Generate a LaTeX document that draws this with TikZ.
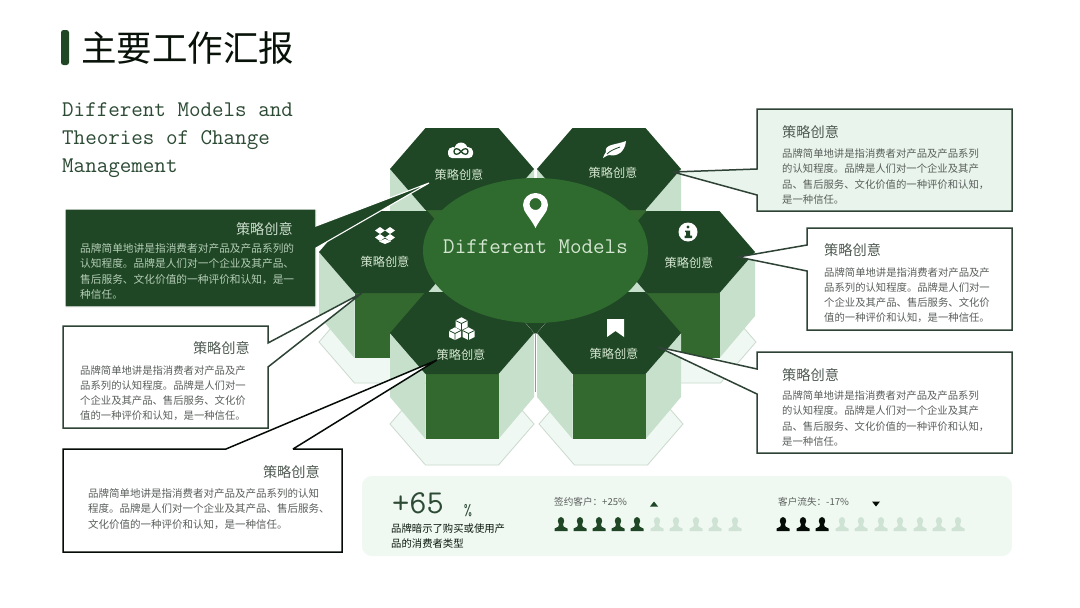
\documentclass[tikz,border=0pt]{standalone}
\usepackage{fontspec}
\usetikzlibrary{shapes.geometric}
\newfontfamily\cjk{Noto Sans CJK SC}
\definecolor{hexdark}{HTML}{1F4725}
\definecolor{front}{HTML}{33692E}
\definecolor{oval}{HTML}{2F6A2F}
\definecolor{side}{HTML}{C6E0CB}
\definecolor{pale}{HTML}{EFF8F2}
\definecolor{paleline}{HTML}{CBDACE}
\definecolor{panel}{HTML}{F0F8F2}
\definecolor{boxlight}{HTML}{E9F4EC}
\definecolor{bodygrey}{HTML}{5A5F5B}
\definecolor{titlegrey}{HTML}{4F5A52}
\definecolor{dimtext}{HTML}{B4CDB6}
\definecolor{hexlabel}{HTML}{D4E6D0}
\definecolor{faded}{HTML}{CFE3D5}
\definecolor{headline}{HTML}{2C4A34}
\definecolor{edgegrey}{HTML}{2E4335}
\tikzset{
  hexlab/.style={font=\cjk\fontsize{12.2}{14}\selectfont,text=hexlabel,inner sep=0},
  boxtitle/.style={font=\cjk\fontsize{14.2}{16}\selectfont,text=titlegrey,inner sep=0},
  boxbody/.style={font=\cjk\fontsize{10.35}{15.2}\selectfont,text=bodygrey,inner sep=0,align=left},
  callout/.style={draw=edgegrey,line width=1.5pt,fill=white,line join=miter,miter limit=2},
  smalltxt/.style={font=\cjk\fontsize{9.6}{12}\selectfont,text=bodygrey,inner sep=0},
}
\newcommand{\paleat}[2]{\begin{scope}[shift={(#1,#2)}]
  \draw[fill=pale,draw=paleline,line width=.8pt] (-72,0)--(-36.5,-41)--(36.5,-41)--(72,0)--(36.5,41)--(-36.5,41)--cycle;
\end{scope}}
\newcommand{\prismat}[2]{\begin{scope}[shift={(#1,#2)}]
  \fill[side] (-72,0)--(-36.5,41)--(-36.5,106)--(-72,64)--cycle;
  \fill[side] (72,0)--(36.5,41)--(36.5,106)--(72,64)--cycle;
  \fill[front] (-36.5,41) rectangle (36.5,106);
  \fill[hexdark] (-72,0)--(-36.5,-41)--(36.5,-41)--(72,0)--(36.5,41)--(-36.5,41)--cycle;
\end{scope}}
\newcommand{\personat}[3]{\fill[#3] (#1,#2-3) ellipse (3.2 and 4)
  (#1-2,#2)--(#1+2,#2)--(#1+2.6,#2+2.6)--(#1+6.5,#2+4.6)--(#1+6.5,#2+7)--(#1-6.5,#2+7)--(#1-6.5,#2+4.6)--(#1-2.6,#2+2.6)--cycle;}
\begin{document}
\begin{tikzpicture}[x=1pt,y=-1pt]
\useasboundingbox (0,0) rectangle (1080,608);
\fill[white] (0,0) rectangle (1080,608);
% title
\fill[hexdark,rounded corners=2.5pt] (61,30) rectangle (69,65);
\node[anchor=west,inner sep=0,text=black!75!hexdark,font=\cjk\fontsize{35.5}{40}\selectfont] (maintitle) at (81,48) {主要工作汇报};
\node[anchor=north west,inner sep=0,text=headline,align=left,font=\ttfamily\fontsize{22.4}{27.8}\selectfont] (subtitle) at (62,102.5) {Different Models and\\Theories of Change\\Management};
% pale bases
\paleat{391}{342}
\paleat{684}{342}
\paleat{462}{424}
\paleat{611}{424}
% prisms
\prismat{462}{169}
\prismat{609}{169}
\prismat{391}{252}
\prismat{683}{252}
\prismat{462}{333}
\prismat{609}{333}
\fill[hexdark] (519,315)--(552,315)--(535.5,334.5)--cycle;
\draw[paleline!60!edgegrey,line width=.6pt] (535.5,333)--(535.5,392);
% centre
\node[ellipse,fill=oval,minimum width=225pt,minimum height=145pt,inner sep=0] (centre) at (535.5,250.5) {};
\node[inner sep=0,text=hexlabel,font=\ttfamily\fontsize{22.4}{24}\selectfont] (centrelab) at (535.5,247) {Different Models};
% pin
\fill[white,even odd rule] (535.5,228) .. controls (530,217) and (523,212) .. (523,205) .. controls (523,198) and (529,193) .. (535.5,193) .. controls (542,193) and (548,198) .. (548,205) .. controls (548,212) and (541,217) .. (535.5,228) -- cycle (535.5,204) circle (6);
% callouts
\coordinate (tipa) at (429,183);
\coordinate (tipb) at (362,293);
\coordinate (tipc) at (437,360);
\coordinate (tipd) at (673,172);
\coordinate (tipe) at (738,257);
\coordinate (tipf) at (658,347);
\draw[fill=hexdark,draw=white,line width=1.1pt,line join=miter] (65,209)--(316,209)--(316,226)--(tipa)--(316,248)--(316,307)--(65,307)--cycle;
\draw[callout] (63,326)--(268,326)--(268,343)--(tipb)--(268,367)--(268,428)--(63,428)--cycle;
\draw[callout,draw=black!85!hexdark] (63,449)--(226,449)--(tipc)--(293,449)--(342,449)--(342,552)--(63,552)--cycle;
\draw[callout,fill=boxlight] (757,109)--(1012,109)--(1012,211)--(757,211)--(757,195)--(tipd)--(757,169)--cycle;
\draw[callout] (807,228)--(1012,228)--(1012,330)--(807,330)--(807,271)--(tipe)--(807,245)--cycle;
\draw[callout] (757,352)--(1012,352)--(1012,453)--(757,453)--(757,394)--(tipf)--(757,369)--cycle;
% hex labels
\node[hexlab] (la) at (459,175) {策略创意};
\node[hexlab] (lb) at (613,173) {策略创意};
\node[hexlab] (lc) at (385,262) {策略创意};
\node[hexlab] (ld) at (689,263) {策略创意};
\node[hexlab] (le) at (461,355) {策略创意};
\node[hexlab] (lf) at (614,354) {策略创意};
% cloud icon
\fill[white,rounded corners=4pt] (448,158) rectangle (473,148);
\fill[white] (453,152) circle (5) (461,149) circle (6.5) (468,152) circle (5);
\draw[hexdark,line width=1.3pt] (461,151.5) .. controls (458,147.5) and (454,148) .. (454,151.5) .. controls (454,155) and (458,155.5) .. (461,151.5) .. controls (464,147.5) and (468,148) .. (468,151.5) .. controls (468,155) and (464,155.5) .. (461,151.5);
% leaf icon
\fill[white] (626,141) .. controls (625,152) and (617,157) .. (609,155) .. controls (605,156) and (604,158) .. (603,158) .. controls (603,156) and (605,154) .. (606,152) .. controls (604,144) and (616,145) .. (626,141) -- cycle;
\draw[hexdark,line width=.8pt] (607,154) .. controls (611,150) and (615,149) .. (620,147);
% dropbox icon
\fill[white] (375,230.5)--(380,227)--(385,230.5)--(380,234)--cycle
 (385,230.5)--(390,227)--(395,230.5)--(390,234)--cycle
 (375,237.5)--(380,234)--(385,237.5)--(380,241)--cycle
 (385,237.5)--(390,234)--(395,237.5)--(390,241)--cycle;
\fill[white] (379,241.5)--(385,238.8)--(391,241.5)--(385,244)--cycle;
% info icon
\fill[white] (688,232) circle (9.5);
\fill[hexdark] (688,227) circle (1.7);
\fill[hexdark] (686,230.5) rectangle (690,236) (684.5,235.5) rectangle (692,238) (685,230.5) rectangle (689,232);
% cubes icon
\foreach \cx/\cy in {461.5/323.5,455/333.5,468.5/333.5}{
  \fill[white] (\cx-6,\cy-3)--(\cx,\cy-6.2)--(\cx+6,\cy-3)--(\cx+6,\cy+3.5)--(\cx,\cy+6.5)--(\cx-6,\cy+3.5)--cycle;
  \draw[hexdark,line width=.7pt] (\cx-6,\cy-3)--(\cx,\cy)--(\cx+6,\cy-3) (\cx,\cy)--(\cx,\cy+6.5);
}
% bookmark icon
\fill[white] (607,319)--(624,319)--(624,337)--(615.5,331)--(607,337)--cycle;
% box texts
\node[boxtitle,anchor=east,text=dimtext!70!white] (ta) at (293,229) {策略创意};
\node[boxbody,anchor=west,text=dimtext,font=\cjk\fontsize{10.7}{15.2}\selectfont] (ba) at (80,271.5) {品牌简单地讲是指消费者对产品及产品系列的\\认知程度。品牌是人们对一个企业及其产品、\\售后服务、文化价值的一种评价和认知，是一\\种信任。};
\node[boxtitle,anchor=east] (tb) at (250,348) {策略创意};
\node[boxbody,anchor=west] (bb) at (80,393) {品牌简单地讲是指消费者对产品及产\\品系列的认知程度。品牌是人们对一\\个企业及其产品、售后服务、文化价\\值的一种评价和认知，是一种信任。};
\node[boxtitle,anchor=east] (tc) at (320,472) {策略创意};
\node[boxbody,anchor=west,font=\cjk\fontsize{10.5}{15.2}\selectfont] (bc) at (88,509) {品牌简单地讲是指消费者对产品及产品系列的认知\\程度。品牌是人们对一个企业及其产品、售后服务、\\文化价值的一种评价和认知，是一种信任。};
\node[boxtitle,anchor=west] (td) at (782,132) {策略创意};
\node[boxbody,anchor=west] (bd) at (782,176.5) {品牌简单地讲是指消费者对产品及产品系列\\的认知程度。品牌是人们对一个企业及其产\\品、售后服务、文化价值的一种评价和认知，\\是一种信任。};
\node[boxtitle,anchor=west] (te) at (824,250) {策略创意};
\node[boxbody,anchor=west] (be) at (824,295) {品牌简单地讲是指消费者对产品及产\\品系列的认知程度。品牌是人们对一\\个企业及其产品、售后服务、文化价\\值的一种评价和认知，是一种信任。};
\node[boxtitle,anchor=west] (tf) at (782,375) {策略创意};
\node[boxbody,anchor=west] (bf) at (782,418.5) {品牌简单地讲是指消费者对产品及产品系列\\的认知程度。品牌是人们对一个企业及其产\\品、售后服务、文化价值的一种评价和认知，\\是一种信任。};
% bottom panel
\fill[panel,rounded corners=10pt] (362,476) rectangle (1012,556);
\node[anchor=west,inner sep=0,text=headline,font=\ttfamily\fontsize{33.5}{34}\selectfont] (big) at (392,503) {+65};
\node[inner sep=0,text=headline,font=\ttfamily\fontsize{16}{16}\selectfont] (pct) at (468,511) {\%};
\node[anchor=west,boxbody,text=black!65!hexdark] (desc) at (391,536) {品牌暗示了购买或使用产\\品的消费者类型};
\node[smalltxt,anchor=west] (sa) at (554,502) {签约客户：+25\%};
\node[smalltxt,anchor=west] (sb) at (778,502) {客户流失：-17\%};
\fill[hexdark] (650,506.5)--(654,501.5)--(658,506.5)--cycle;
\fill[black!85!hexdark] (872,501.5)--(880,501.5)--(876,506.5)--cycle;
\foreach \px in {561,580,599,618,637}{\personat{\px}{524}{hexdark}}
\foreach \px in {657,676,696,715,735}{\personat{\px}{524}{faded}}
\foreach \px in {783,803,822}{\personat{\px}{524}{black!85!hexdark}}
\foreach \px in {842,861,881,900,920,939,958}{\personat{\px}{524}{faded}}
\end{tikzpicture}
\end{document}
